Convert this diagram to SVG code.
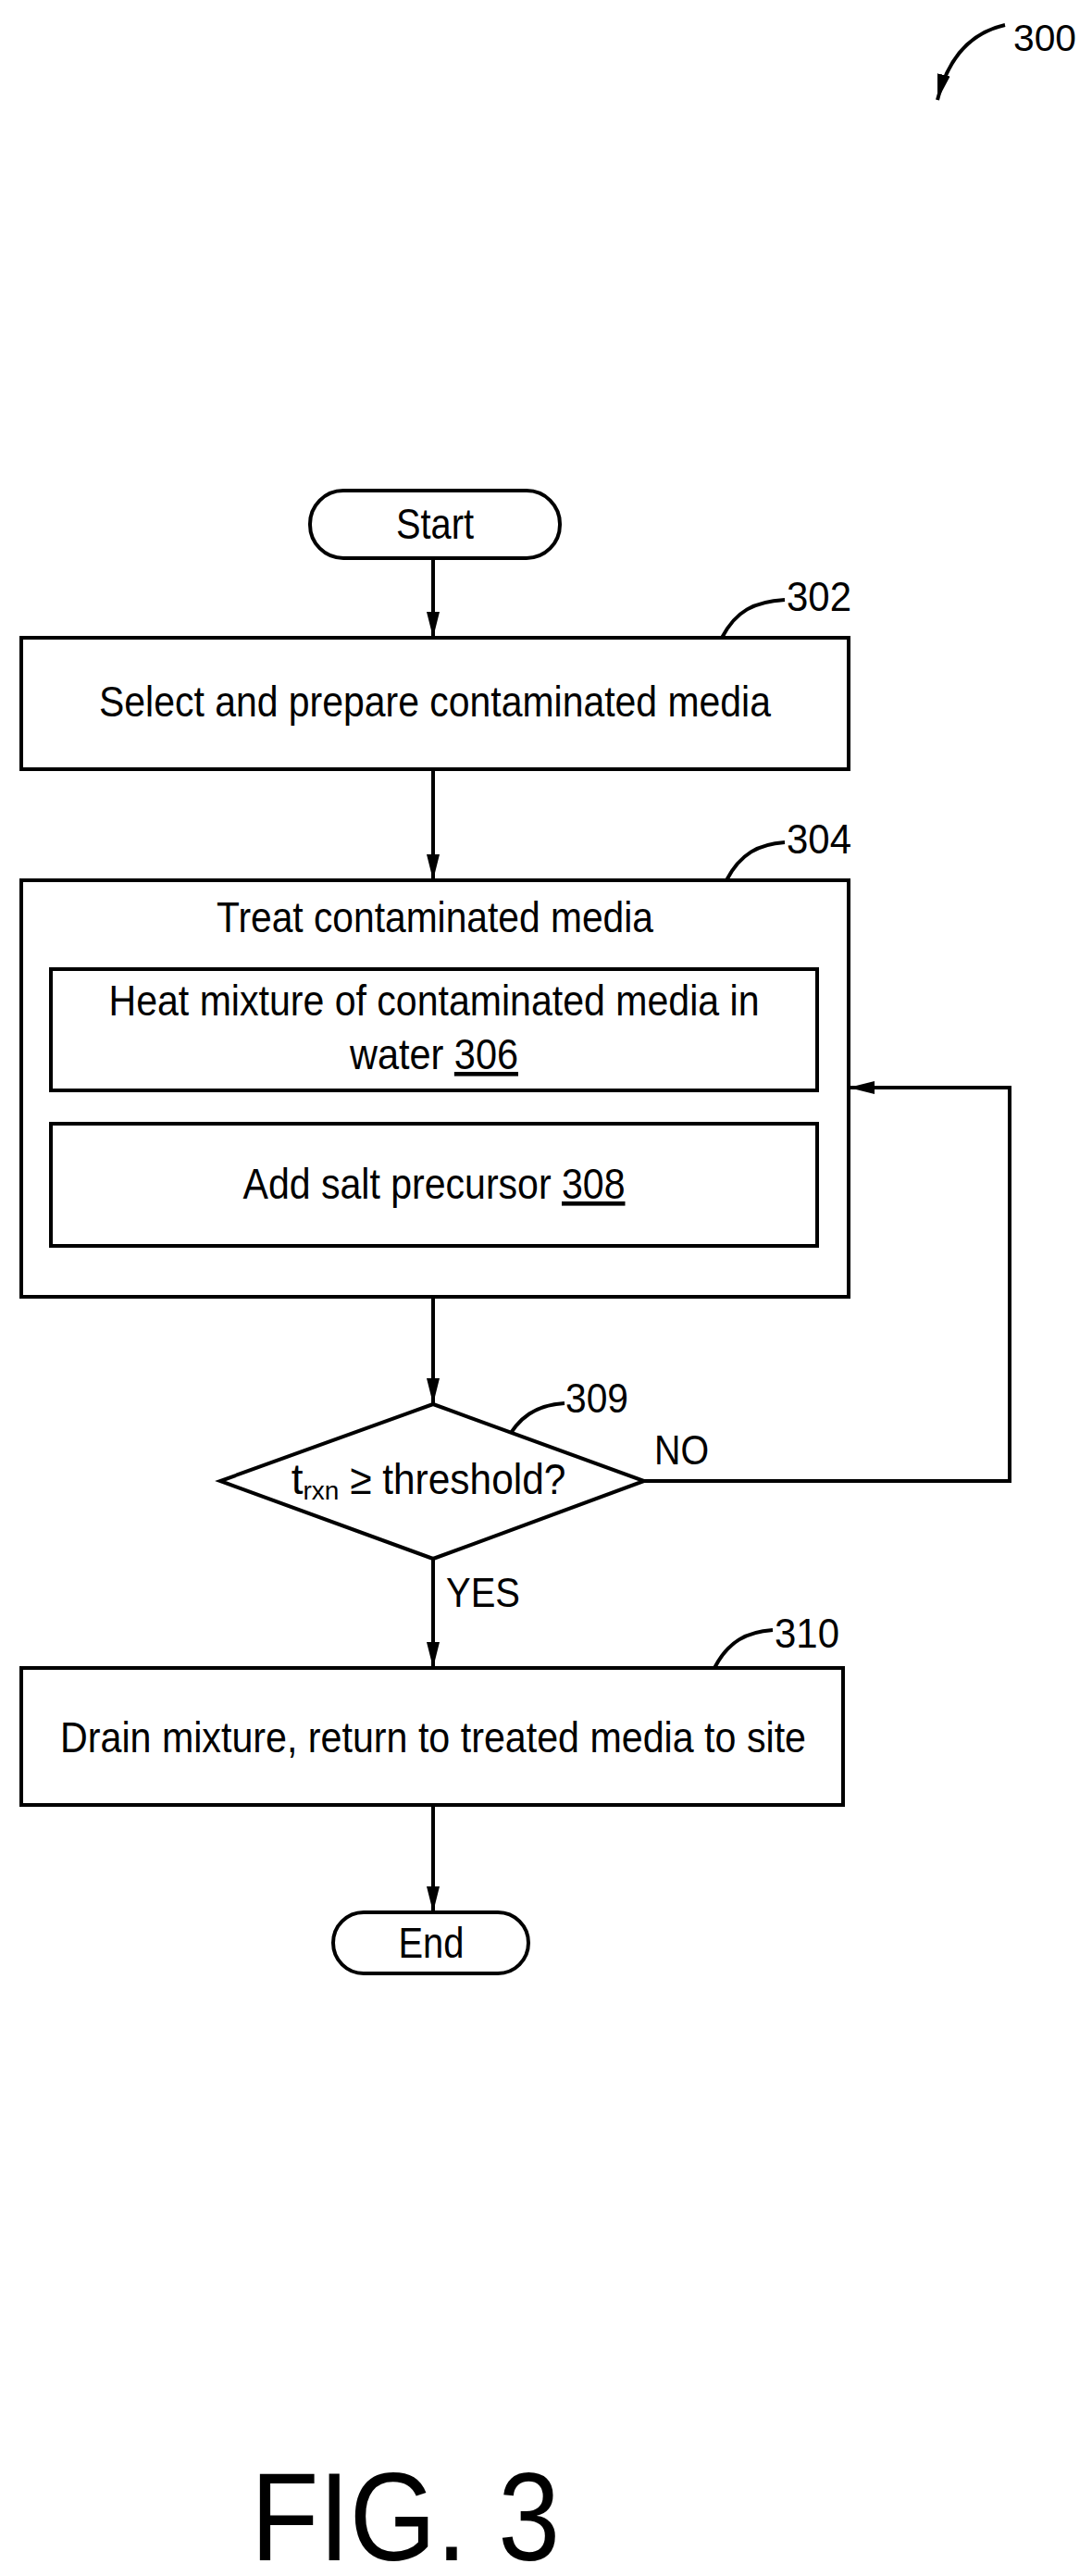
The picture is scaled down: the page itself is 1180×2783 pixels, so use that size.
<svg xmlns="http://www.w3.org/2000/svg" width="1180" height="2783" viewBox="0 0 1180 2783">
<defs>
<style>
text{font-family:"Liberation Sans",Arial,sans-serif;fill:#000}
.t{font-size:46px;text-anchor:middle}
.s{fill:#fff;stroke:#000;stroke-width:4}
.c{fill:none;stroke:#000;stroke-width:4}
</style>
<marker id="b" viewBox="0 0 10 10" refX="10" refY="5" markerWidth="28" markerHeight="28" markerUnits="userSpaceOnUse" orient="auto"><path d="M0,2.5L10,5L0,7.5z"/></marker>
</defs>
<g id="connectors" class="c">
<path d="M468,604V689" marker-end="url(#b)"/>
<path d="M468,831V951" marker-end="url(#b)"/>
<path d="M468,1401V1517" marker-end="url(#b)"/>
<path d="M696,1600H1091V1175H917" marker-end="url(#b)"/>
<path d="M468,1684V1802" marker-end="url(#b)"/>
<path d="M468,1950V2066" marker-end="url(#b)"/>
<path d="M1086,27C1050,35 1025,60 1013,108" marker-end="url(#b)"/>
<path d="M780,689C795,660 815,650 848,648"/>
<path d="M785,951C800,922 820,912 848,910"/>
<path d="M545,1560C560,1530 580,1518 610,1516"/>
<path d="M772,1802C787,1773 807,1763 835,1761"/>
</g>
<g id="start"><rect class="s" x="335" y="530" width="270" height="73" rx="36"/><text class="t" x="470" y="582" textLength="84" lengthAdjust="spacingAndGlyphs">Start</text></g>
<g id="n302"><rect class="s" x="23" y="689" width="894" height="142"/><text class="t" x="470" y="774" textLength="726" lengthAdjust="spacingAndGlyphs">Select and prepare contaminated media</text><text x="850" y="660" font-size="44" textLength="70" lengthAdjust="spacingAndGlyphs">302</text></g>
<g id="n304"><rect class="s" x="23" y="951" width="894" height="450"/><text class="t" x="470" y="1007" textLength="472" lengthAdjust="spacingAndGlyphs">Treat contaminated media</text><text x="850" y="922" font-size="44" textLength="70" lengthAdjust="spacingAndGlyphs">304</text></g>
<g id="n306"><rect class="s" x="55" y="1047" width="828" height="131"/><text class="t" x="469" y="1097" textLength="703" lengthAdjust="spacingAndGlyphs">Heat mixture of contaminated media in</text><text class="t" x="469" y="1155" textLength="182" lengthAdjust="spacingAndGlyphs">water <tspan text-decoration="underline">306</tspan></text></g>
<g id="n308"><rect class="s" x="55" y="1214" width="828" height="132"/><text class="t" x="469" y="1295" textLength="413" lengthAdjust="spacingAndGlyphs">Add salt precursor <tspan text-decoration="underline">308</tspan></text></g>
<g id="n309"><path class="s" d="M468,1517L696,1600L468,1684L238,1600z"/><text class="t" x="463" y="1614">t<tspan font-size="28" dy="6">rxn</tspan><tspan dy="-6" textLength="245" lengthAdjust="spacingAndGlyphs"> ≥ threshold?</tspan></text><text x="611" y="1526" font-size="44" textLength="68" lengthAdjust="spacingAndGlyphs">309</text><text x="707" y="1582" font-size="44" textLength="59" lengthAdjust="spacingAndGlyphs">NO</text><text x="482" y="1736" font-size="44" textLength="80" lengthAdjust="spacingAndGlyphs">YES</text></g>
<g id="n310"><rect class="s" x="23" y="1802" width="888" height="148"/><text class="t" x="468" y="1893" textLength="806" lengthAdjust="spacingAndGlyphs">Drain mixture, return to treated media to site</text><text x="837" y="1780" font-size="44" textLength="70" lengthAdjust="spacingAndGlyphs">310</text></g>
<g id="end"><rect class="s" x="360" y="2066" width="211" height="66" rx="33"/><text class="t" x="466" y="2115" textLength="71" lengthAdjust="spacingAndGlyphs">End</text></g>
<text x="1095" y="55" font-size="40" textLength="68" lengthAdjust="spacingAndGlyphs">300</text>
<text x="438" y="2766" font-size="136" text-anchor="middle" textLength="334" lengthAdjust="spacingAndGlyphs">FIG. 3</text>
</svg>
